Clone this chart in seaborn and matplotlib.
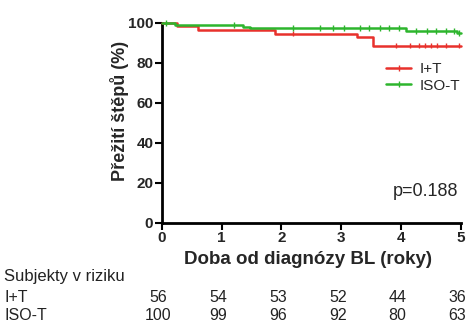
import numpy as np
import pandas as pd
import matplotlib
matplotlib.use("Agg")
import matplotlib.pyplot as plt
import matplotlib.transforms as mtrans
from matplotlib.lines import Line2D
import seaborn as sns

# ---- data ----
groups = ["I+T", "ISO-T"]
colors = ["#e8312c", "#2db52d"]

it_times = [0.0, 0.25, 0.60, 1.90, 3.27, 3.53, 5.0]
it_surv = [100, 98.2, 96.4, 94.6, 92.8, 88.6, 88.6]
it_censor = [2.19, 3.91, 4.14, 4.30, 4.40, 4.50, 4.60, 4.75, 4.97]

iso_times = [0.0, 0.23, 1.35, 1.47, 4.08, 4.93, 5.0]
iso_surv = [100, 99.0, 98.0, 97.2, 95.9, 94.7, 94.7]
iso_censor = [0.08, 1.20, 2.19, 2.64, 2.86, 3.05, 3.31, 3.47, 3.64, 3.80,
              3.97, 4.25, 4.44, 4.58, 4.75, 4.89, 4.97]

xticks = [0, 1, 2, 3, 4, 5]
yticks = [0, 20, 40, 60, 80, 100]
risk_it = [56, 54, 53, 52, 44, 36]
risk_iso = [100, 99, 96, 92, 80, 63]
p_text = "p=0.188"
xlabel = "Doba od diagnózy BL (roky)"
ylabel = "Přežití štěpů (%)"
risk_title = "Subjekty v riziku"

sns.set_theme(style="ticks")
plt.rcParams["font.family"] = ["Liberation Sans", "DejaVu Sans"]

W, H = 469, 324
fig = plt.figure(figsize=(W / 100, H / 100), dpi=100)
ax = fig.add_axes([161.7 / W, 1 - 222.7 / H, (461 - 161.7) / W, 200 / H])

curves = pd.concat([
    pd.DataFrame({"t": it_times, "s": it_surv, "g": groups[0]}),
    pd.DataFrame({"t": iso_times, "s": iso_surv, "g": groups[1]}),
])


def step_at(times, surv, x):
    idx = np.searchsorted(times, x, side="right") - 1
    return np.asarray(surv)[idx]


cens = pd.concat([
    pd.DataFrame({"t": it_censor, "s": step_at(it_times, it_surv, it_censor), "g": groups[0]}),
    pd.DataFrame({"t": iso_censor, "s": step_at(iso_times, iso_surv, iso_censor), "g": groups[1]}),
])

pal = dict(zip(groups, colors))
sns.lineplot(data=curves, x="t", y="s", hue="g", palette=pal, estimator=None,
             sort=False, drawstyle="steps-post", linewidth=1.8, legend=False,
             ax=ax, clip_on=False, zorder=3)
sns.scatterplot(data=cens, x="t", y="s", hue="g", palette=pal, marker="|",
                s=18, linewidth=1.0, legend=False, ax=ax, clip_on=False, zorder=4)

ax.set_xlim(0, 5)
ax.set_ylim(0, 100)
ax.set_xticks(xticks)
ax.set_yticks(yticks)
ax.set_xlabel("")
ax.set_ylabel(ylabel, fontsize=13, fontweight="bold")
ax.yaxis.set_label_coords(-0.11, 0.56)
for s in ["top", "right"]:
    ax.spines[s].set_visible(False)
for s in ["left", "bottom"]:
    ax.spines[s].set_linewidth(2.0)
    ax.spines[s].set_color("black")
ax.tick_params(axis="both", direction="out", length=5, width=1.5, color="black",
               labelsize=11, pad=1)
for lab in ax.get_xticklabels() + ax.get_yticklabels():
    lab.set_fontweight("bold")

fig.text(308 / W, 1 - 259 / H, xlabel, ha="center", va="center",
         fontsize=13.5, fontweight="bold")

handles = [Line2D([0], [0], color=c, lw=1.8, marker="|", markersize=4) for c in colors]
ax.legend(handles, groups, loc="upper left", bbox_to_anchor=(0.725, 0.84),
          frameon=False, fontsize=11, handlelength=1.6, handletextpad=0.6,
          labelspacing=0.15, borderpad=0)

ax.text(0.99, 0.155, p_text, transform=ax.transAxes, ha="right", va="center",
        fontsize=13)

tr = mtrans.blended_transform_factory(ax.transData, fig.transFigure)
tcol = "#222222"
fs = 11.5
fig.text(4 / W, 1 - 277 / H, risk_title, ha="left", va="center", fontsize=12, color=tcol)
fig.text(4 / W, 1 - 297 / H, groups[0], ha="left", va="center", fontsize=fs, color=tcol)
fig.text(4 / W, 1 - 316 / H, groups[1], ha="left", va="center", fontsize=fs, color=tcol)
for x, a, b in zip(xticks, risk_it, risk_iso):
    ax.text(x - 0.06, 1 - 297 / H, str(a), transform=tr, ha="center", va="center",
            fontsize=fs, color=tcol)
    ax.text(x - 0.06, 1 - 316 / H, str(b), transform=tr, ha="center", va="center",
            fontsize=fs, color=tcol)

fig.savefig("out.png", dpi=100)
